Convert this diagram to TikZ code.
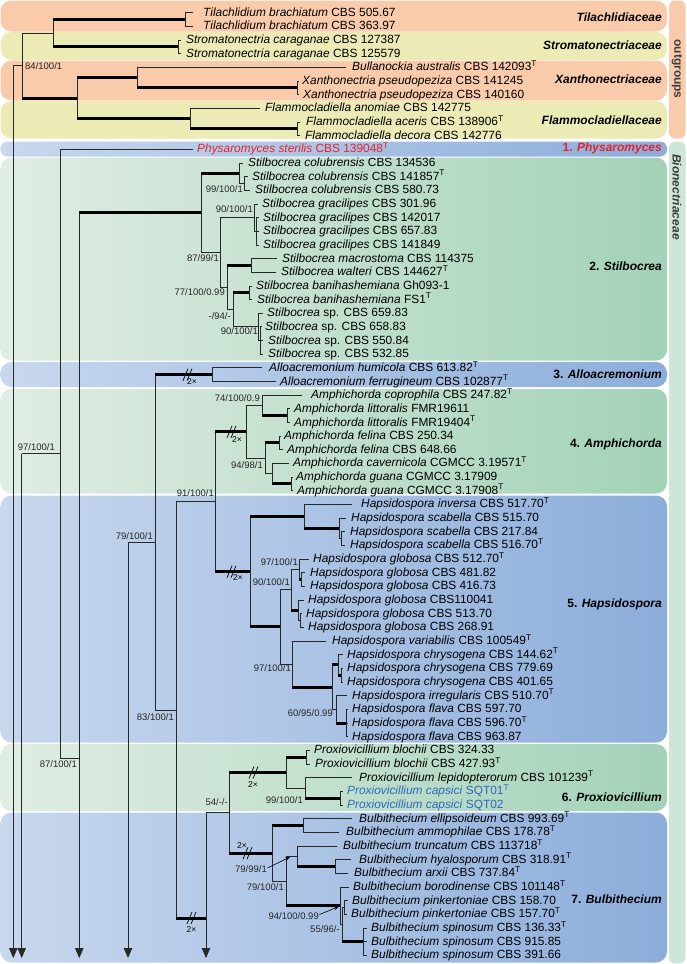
\documentclass[tikz,border=0pt]{standalone}
\usepackage{fontspec}
\setmainfont{Liberation Sans}
\usetikzlibrary{arrows.meta}
\definecolor{orng}{RGB}{250,203,170}
\definecolor{yllw}{RGB}{236,235,182}
\definecolor{blueL}{RGB}{200,216,238}
\definecolor{blueR}{RGB}{140,173,218}
\definecolor{grnL}{RGB}{224,237,227}
\definecolor{grnR}{RGB}{163,210,184}
\definecolor{bionbar}{RGB}{205,230,215}
\definecolor{redt}{RGB}{230,35,45}
\definecolor{bluet}{RGB}{45,105,190}
\definecolor{ln}{RGB}{40,40,40}
\definecolor{sidetxt}{RGB}{60,60,60}
\newcommand\Tsup{\textsuperscript{T}}
\newcommand\leaf[5]{\coordinate (#1) at (#3,#2); \node[lf] (#1x) at (#4,#2) {#5};}
\newcommand\br[3]{\draw[tn] (#2) -- (#2 |- #3); \draw[#1] (#2 |- #3) -- (#3);}
\newcommand\brk[2]{\draw[line width=0.7pt] (#1-5,#2+6) -- (#1,#2-6) (#1-1,#2+6) -- (#1+4,#2-6);}
\begin{document}
\begin{tikzpicture}[x=1pt,y=-1pt,
 lf/.style={anchor=west,inner sep=0pt,font=\fontsize{11.9}{12}\selectfont,text height=9pt,text depth=2pt},
 sl/.style={anchor=east,inner sep=0pt,font=\fontsize{9.5}{10}\selectfont,text height=6.9pt,text depth=0pt,text=black!85},
 cl/.style={anchor=east,inner sep=0pt,font=\fontsize{12}{13}\selectfont\bfseries,text height=8.6pt,text depth=0pt},
 tw/.style={inner sep=0pt,font=\fontsize{8.5}{9}\selectfont},
 tn/.style={line width=0.8pt,draw=ln},
 tk/.style={line width=3pt,draw=black},
 dn/.style={tn,-{Triangle[length=10pt,width=8.5pt]}},
 pt/.style={line width=0.6pt,draw=black,-{Stealth[length=5pt,width=3.5pt]}}]
\useasboundingbox (0,0) rectangle (686,964);
% ---------- bands ----------
\fill[orng,rounded corners=11pt] (0.5,0.5) rectangle (667,31.5);
\fill[yllw,rounded corners=11pt] (0.5,32) rectangle (667,60);
\fill[orng,rounded corners=11pt] (0.5,60.5) rectangle (667,100.5);
\fill[yllw,rounded corners=11pt] (0.5,101) rectangle (667,138.5);
\shade[left color=blueL,right color=blueR,rounded corners=7pt] (0.5,141.5) rectangle (667,156.5);
\shade[left color=grnL,right color=grnR,rounded corners=11pt] (0.5,157.5) rectangle (667,360.5);
\shade[left color=blueL,right color=blueR,rounded corners=11pt] (0.5,362) rectangle (667,387);
\shade[left color=grnL,right color=grnR,rounded corners=11pt] (0.5,389) rectangle (667,493.5);
\shade[left color=blueL,right color=blueR,rounded corners=11pt] (0.5,495.5) rectangle (667,742.5);
\shade[left color=grnL,right color=grnR,rounded corners=11pt] (0.5,744) rectangle (667,811);
\shade[left color=blueL,right color=blueR,rounded corners=11pt] (0.5,812.5) rectangle (667,962.5);
\fill[orng,rounded corners=6pt] (669,0.5) rectangle (685.5,138.5);
\fill[bionbar,rounded corners=6pt] (669,141.5) rectangle (685.5,963.5);
\node[rotate=-90,inner sep=0pt,font=\fontsize{12}{13}\selectfont\bfseries,text=sidetxt] (sOut) at (677,69) {outgroups};
\node[rotate=-90,inner sep=0pt,font=\fontsize{12}{13}\selectfont\bfseries\itshape,text=sidetxt] (sBio) at (677,197) {Bionectriaceae};
% ---------- leaves ----------
\leaf{t1}{12.7}{193}{203}{\textit{Tilachlidium brachiatum} CBS 505.67}
\leaf{t2}{26.36}{193}{203}{\textit{Tilachlidium brachiatum} CBS 363.97}
\leaf{t3}{40.02}{181}{186}{\textit{Stromatonectria caraganae} CBS 127387}
\leaf{t4}{53.68}{181}{186}{\textit{Stromatonectria caraganae} CBS 125579}
\leaf{t5}{67.34}{346}{352}{\textit{Bullanockia australis} CBS 142093\Tsup}
\leaf{t6}{81.0}{299}{302}{\textit{Xanthonectria pseudopeziza} CBS 141245}
\leaf{t7}{94.66}{299}{303}{\textit{Xanthonectria pseudopeziza} CBS 140160}
\leaf{t8}{108.32}{260}{265}{\textit{Flammocladiella anomiae} CBS 142775}
\leaf{t9}{121.98}{300}{306}{\textit{Flammocladiella aceris} CBS 138906\Tsup}
\leaf{t10}{135.64}{300}{305}{\textit{Flammocladiella decora} CBS 142776}
\leaf{t11}{149.3}{193}{197}{\color{redt}\textit{Physaromyces sterilis} CBS 139048\Tsup}
\leaf{t12}{162.96}{243}{248}{\textit{Stilbocrea colubrensis} CBS 134536}
\leaf{t13}{176.62}{248}{252}{\textit{Stilbocrea colubrensis} CBS 141857\Tsup}
\leaf{t14}{190.28}{250}{255}{\textit{Stilbocrea colubrensis} CBS 580.73}
\leaf{t15}{203.94}{258}{262}{\textit{Stilbocrea gracilipes} CBS 301.96}
\leaf{t16}{217.6}{259}{263}{\textit{Stilbocrea gracilipes} CBS 142017}
\leaf{t17}{231.26}{259}{263}{\textit{Stilbocrea gracilipes} CBS 657.83}
\leaf{t18}{244.92}{259}{263}{\textit{Stilbocrea gracilipes} CBS 141849}
\leaf{t19}{258.58}{277}{282}{\textit{Stilbocrea macrostoma} CBS 114375}
\leaf{t20}{272.24}{276}{281}{\textit{Stilbocrea walteri} CBS 144627\Tsup}
\leaf{t21}{285.9}{252}{256}{\textit{Stilbocrea banihashemiana} Gh093-1}
\leaf{t22}{299.56}{252}{257}{\textit{Stilbocrea banihashemiana} FS1\Tsup}
\leaf{t23}{313.22}{263}{267}{\textit{Stilbocrea} sp. CBS 659.83}
\leaf{t24}{326.88}{262}{265}{\textit{Stilbocrea} sp. CBS 658.83}
\leaf{t25}{340.54}{263}{268}{\textit{Stilbocrea} sp. CBS 550.84}
\leaf{t26}{354.2}{263}{268}{\textit{Stilbocrea} sp. CBS 532.85}
\leaf{t27}{367.86}{262}{269}{\textit{Alloacremonium humicola} CBS 613.82\Tsup}
\leaf{t28}{381.52}{276}{280}{\textit{Alloacremonium ferrugineum} CBS 102877\Tsup}
\leaf{t29}{395.18}{302}{311}{\textit{Amphichorda coprophila} CBS 247.82\Tsup}
\leaf{t30}{408.84}{290}{294}{\textit{Amphichorda littoralis} FMR19611}
\leaf{t31}{422.5}{290}{294}{\textit{Amphichorda littoralis} FMR19404\Tsup}
\leaf{t32}{436.16}{281}{284}{\textit{Amphichorda felina} CBS 250.34}
\leaf{t33}{449.82}{283}{287}{\textit{Amphichorda felina} CBS 648.66}
\leaf{t34}{463.48}{289}{293}{\textit{Amphichorda cavernicola} CGMCC 3.19571\Tsup}
\leaf{t35}{477.14}{293}{296}{\textit{Amphichorda guana} CGMCC 3.17909}
\leaf{t36}{490.8}{293}{297}{\textit{Amphichorda guana} CGMCC 3.17908\Tsup}
\leaf{t37}{504.46}{352}{361}{\textit{Hapsidospora inversa} CBS 517.70\Tsup}
\leaf{t38}{518.12}{346}{351}{\textit{Hapsidospora scabella} CBS 515.70}
\leaf{t39}{531.78}{345}{350}{\textit{Hapsidospora scabella} CBS 217.84}
\leaf{t40}{545.44}{345}{350}{\textit{Hapsidospora scabella} CBS 516.70\Tsup}
\leaf{t41}{559.1}{309}{313}{\textit{Hapsidospora globosa} CBS 512.70\Tsup}
\leaf{t42}{572.76}{305}{310}{\textit{Hapsidospora globosa} CBS 481.82}
\leaf{t43}{586.42}{305}{310}{\textit{Hapsidospora globosa} CBS 416.73}
\leaf{t44}{600.08}{304}{308}{\textit{Hapsidospora globosa} CBS110041}
\leaf{t45}{613.74}{302}{306}{\textit{Hapsidospora globosa} CBS 513.70}
\leaf{t46}{627.4}{304}{308}{\textit{Hapsidospora globosa} CBS 268.91}
\leaf{t47}{641.06}{326}{332}{\textit{Hapsidospora variabilis} CBS 100549\Tsup}
\leaf{t48}{654.72}{343}{347}{\textit{Hapsidospora chrysogena} CBS 144.62\Tsup}
\leaf{t49}{668.38}{343}{347}{\textit{Hapsidospora chrysogena} CBS 779.69}
\leaf{t50}{682.04}{343}{347}{\textit{Hapsidospora chrysogena} CBS 401.65}
\leaf{t51}{695.7}{347}{352}{\textit{Hapsidospora irregularis} CBS 510.70\Tsup}
\leaf{t52}{709.36}{348}{352}{\textit{Hapsidospora flava} CBS 597.70}
\leaf{t53}{723.02}{348}{352}{\textit{Hapsidospora flava} CBS 596.70\Tsup}
\leaf{t54}{736.68}{348}{352}{\textit{Hapsidospora flava} CBS 963.87}
\leaf{t55}{750.34}{310}{314}{\textit{Proxiovicillium blochii} CBS 324.33}
\leaf{t56}{764.0}{310}{315}{\textit{Proxiovicillium blochii} CBS 427.93\Tsup}
\leaf{t57}{777.66}{352}{359}{\textit{Proxiovicillium lepidopterorum} CBS 101239\Tsup}
\leaf{t58}{791.32}{343}{347}{\color{bluet}\textit{Proxiovicillium capsici} SQT01\Tsup}
\leaf{t59}{804.98}{343}{347}{\color{bluet}\textit{Proxiovicillium capsici} SQT02}
\leaf{t60}{818.64}{352}{359}{\textit{Bulbithecium ellipsoideum} CBS 993.69\Tsup}
\leaf{t61}{832.3}{339}{346}{\textit{Bulbithecium ammophilae} CBS 178.78\Tsup}
\leaf{t62}{845.96}{337}{343}{\textit{Bulbithecium truncatum} CBS 113718\Tsup}
\leaf{t63}{859.62}{351}{359}{\textit{Bulbithecium hyalosporum} CBS 318.91\Tsup}
\leaf{t64}{873.28}{348}{354}{\textit{Bulbithecium arxii} CBS 737.84\Tsup}
\leaf{t65}{886.94}{349}{353}{\textit{Bulbithecium borodinense} CBS 101148\Tsup}
\leaf{t66}{900.6}{348}{352}{\textit{Bulbithecium pinkertoniae} CBS 158.70}
\leaf{t67}{914.26}{347}{351}{\textit{Bulbithecium pinkertoniae} CBS 157.70\Tsup}
\leaf{t68}{927.92}{367}{371}{\textit{Bulbithecium spinosum} CBS 136.33\Tsup}
\leaf{t69}{941.58}{367}{371}{\textit{Bulbithecium spinosum} CBS 915.85}
\leaf{t70}{955.24}{367}{371}{\textit{Bulbithecium spinosum} CBS 391.66}
% ---------- internal nodes ----------
\coordinate (nTil) at (185,19.53);
\coordinate (nStr) at (178,46.85);
\coordinate (nTS) at (53,33.19);
\coordinate (nXan) at (297,87.83);
\coordinate (nXB) at (137,77.59);
\coordinate (nFla) at (297,128.81);
\coordinate (nFl) at (190,118.57);
\coordinate (nXF) at (77,98.08);
\coordinate (nOut) at (22,65.63);
\coordinate (s13) at (13.3,65.63);
\coordinate (e13) at (13.3,958);
\coordinate (nPh) at (60,453.65);
\coordinate (s22) at (21.7,453.65);
\coordinate (e22) at (21.7,958);
\coordinate (j79) at (79.3,758);
\coordinate (s79) at (79.3,212.9);
\coordinate (e79) at (79.3,958);
\coordinate (nSt) at (201,212.9);
\coordinate (nCo) at (239,173.2);
\coordinate (nCo2) at (244,183.45);
\coordinate (nGM) at (220,252.6);
\coordinate (nGr) at (254,217.6);
\coordinate (nGr2) at (256,231.26);
\coordinate (nMB) at (227,287.6);
\coordinate (nMW) at (251,265.41);
\coordinate (nBS) at (233,309.8);
\coordinate (nBa) at (249,292.73);
\coordinate (nSp) at (258,326.88);
\coordinate (nSp2) at (260,340.54);
\coordinate (nAll) at (155,542.3);
\coordinate (s128) at (128,542.3);
\coordinate (e128) at (128,958);
\coordinate (nAl) at (212,374.69);
\coordinate (nBig) at (176,709.9);
\coordinate (j206) at (206,918);
\coordinate (s206) at (206,812.85);
\coordinate (e206) at (206,958);
\coordinate (nAH) at (215,501.8);
\coordinate (nAm) at (246,431.85);
\coordinate (nCop) at (262,405.4);
\coordinate (nLit) at (287,415.67);
\coordinate (nFC) at (265,458.3);
\coordinate (nFel) at (279,442.99);
\coordinate (nCG) at (272,473.7);
\coordinate (nGua) at (291,483.97);
\coordinate (nHa) at (250,571.7);
\coordinate (nIS) at (304,516.4);
\coordinate (nSc) at (339,528.4);
\coordinate (nSc2) at (341,538.61);
\coordinate (nGA) at (280,626.95);
\coordinate (nGl) at (291,589.8);
\coordinate (nGl1) at (299,569.3);
\coordinate (nGl2) at (301,579.59);
\coordinate (nGl3) at (298,610.3);
\coordinate (nGl4) at (300,620.57);
\coordinate (nA) at (292,664.1);
\coordinate (nB) at (332,687.2);
\coordinate (nCh) at (338,664.97);
\coordinate (nCh2) at (341,675.21);
\coordinate (nIF) at (336,709.36);
\coordinate (nFl2) at (346,723.02);
\coordinate (nPB) at (229,812.85);
\coordinate (nPr) at (286,772.5);
\coordinate (nBl) at (306,757.17);
\coordinate (nLC) at (305,787.9);
\coordinate (nCa) at (340,798.15);
\coordinate (nBu) at (272,853.2);
\coordinate (nEA) at (303,825.47);
\coordinate (nTE) at (286,880.95);
\coordinate (nTr) at (297,856.2);
\coordinate (nHA) at (335,866.45);
\coordinate (nE) at (340,905.7);
\coordinate (nF) at (342,924.5);
\coordinate (nPk) at (344,907.43);
\coordinate (nSpn) at (363,941.58);
% ---------- branches: outgroups ----------
\br{tn}{nTil}{t1} \br{tn}{nTil}{t2}
\br{tn}{nStr}{t3} \br{tn}{nStr}{t4}
\br{tk}{nTS}{nTil} \br{tk}{nTS}{nStr}
\br{tn}{nXan}{t6} \br{tn}{nXan}{t7}
\br{tn}{nXB}{t5} \br{tk}{nXB}{nXan}
\br{tn}{nFla}{t9} \br{tn}{nFla}{t10}
\br{tn}{nFl}{t8} \br{tk}{nFl}{nFla}
\br{tk}{nXF}{nXB} \br{tk}{nXF}{nFl}
\br{tn}{nOut}{nTS} \br{tk}{nOut}{nXF}
\draw[tn] (s13) -- (nOut);
\draw[dn] (s13) -- (e13);
% ---------- backbone ----------
\br{tn}{nPh}{t11} \br{tn}{nPh}{j79}
\draw[tn] (s22) -- (nPh);
\draw[dn] (s22) -- (e22);
\draw[dn] (s79) -- (e79);
\draw[tk] (s79) -- (nSt);
% Stilbocrea
\br{tk}{nSt}{nCo} \br{tn}{nSt}{nGM}
\br{tn}{nCo}{t12} \br{tn}{nCo}{nCo2}
\br{tn}{nCo2}{t13} \br{tn}{nCo2}{t14}
\br{tn}{nGM}{nGr} \br{tn}{nGM}{nMB}
\br{tn}{nGr}{t15} \br{tn}{nGr}{nGr2}
\br{tn}{nGr2}{t16} \br{tn}{nGr2}{t17} \br{tn}{nGr2}{t18}
\br{tk}{nMB}{nMW} \br{tn}{nMB}{nBS}
\br{tn}{nMW}{t19} \br{tn}{nMW}{t20}
\br{tk}{nBS}{nBa} \br{tn}{nBS}{nSp}
\br{tn}{nBa}{t21} \br{tn}{nBa}{t22}
\br{tn}{nSp}{t23} \br{tn}{nSp}{nSp2}
\br{tn}{nSp2}{t24} \br{tn}{nSp2}{t25} \br{tn}{nSp2}{t26}
% Alloacremonium etc.
\br{tk}{nAll}{nAl} \br{tn}{nAll}{nBig}
\draw[tn] (s128) -- (nAll);
\draw[dn] (s128) -- (e128);
\br{tn}{nAl}{t27} \br{tn}{nAl}{t28}
\br{tn}{nBig}{nAH} \br{tk}{nBig}{j206}
\draw[dn] (s206) -- (e206);
\draw[tn] (s206) -- (nPB);
% Amphichorda
\br{tk}{nAH}{nAm} \br{tk}{nAH}{nHa}
\br{tn}{nAm}{nCop} \br{tn}{nAm}{nFC}
\br{tn}{nCop}{t29} \br{tk}{nCop}{nLit}
\br{tn}{nLit}{t30} \br{tn}{nLit}{t31}
\br{tk}{nFC}{nFel} \br{tn}{nFC}{nCG}
\br{tn}{nFel}{t32} \br{tn}{nFel}{t33}
\br{tn}{nCG}{t34} \br{tk}{nCG}{nGua}
\br{tn}{nGua}{t35} \br{tn}{nGua}{t36}
% Hapsidospora
\br{tk}{nHa}{nIS} \br{tk}{nHa}{nGA}
\br{tn}{nIS}{t37} \br{tk}{nIS}{nSc}
\br{tn}{nSc}{t38} \br{tn}{nSc}{nSc2}
\br{tn}{nSc2}{t39} \br{tn}{nSc2}{t40}
\br{tn}{nGA}{nGl} \br{tn}{nGA}{nA}
\br{tn}{nGl}{nGl1} \br{tk}{nGl}{nGl3}
\br{tn}{nGl1}{t41} \br{tk}{nGl1}{nGl2}
\br{tn}{nGl2}{t42} \br{tn}{nGl2}{t43}
\br{tn}{nGl3}{t44} \br{tn}{nGl3}{nGl4}
\br{tn}{nGl4}{t45} \br{tn}{nGl4}{t46}
\br{tn}{nA}{t47} \br{tk}{nA}{nB}
\br{tk}{nB}{nCh} \br{tn}{nB}{nIF}
\br{tn}{nCh}{t48} \br{tk}{nCh}{nCh2}
\br{tn}{nCh2}{t49} \br{tn}{nCh2}{t50}
\br{tn}{nIF}{t51} \br{tk}{nIF}{nFl2}
\br{tn}{nFl2}{t52} \br{tn}{nFl2}{t53} \br{tn}{nFl2}{t54}
% Proxiovicillium
\br{tk}{nPB}{nPr} \br{tk}{nPB}{nBu}
\br{tk}{nPr}{nBl} \br{tn}{nPr}{nLC}
\br{tn}{nBl}{t55} \br{tn}{nBl}{t56}
\br{tn}{nLC}{t57} \br{tk}{nLC}{nCa}
\br{tn}{nCa}{t58} \br{tn}{nCa}{t59}
% Bulbithecium
\br{tk}{nBu}{nEA} \br{tn}{nBu}{nTE}
\br{tn}{nEA}{t60} \br{tn}{nEA}{t61}
\br{tn}{nTE}{nTr} \br{tk}{nTE}{nE}
\br{tn}{nTr}{t62} \br{tk}{nTr}{nHA}
\br{tn}{nHA}{t63} \br{tn}{nHA}{t64}
\br{tn}{nE}{t65} \br{tn}{nE}{nF}
\br{tn}{nF}{nPk} \br{tk}{nF}{nSpn}
\br{tn}{nPk}{t66} \br{tn}{nPk}{t67}
\br{tn}{nSpn}{t68} \br{tn}{nSpn}{t69} \br{tn}{nSpn}{t70}
% ---------- breaks ----------
\brk{188}{374.69} \node[tw] (b1) at (192,382) {2×};
\brk{232}{431.85} \node[tw] (b2) at (237,439.5) {2×};
\brk{232}{571.7} \node[tw] (b3) at (238,578) {2×};
\brk{254}{772.5} \node[tw] (b4) at (253,785) {2×};
\brk{192}{918} \node[tw] (b5) at (191.5,930) {2×};
\brk{248}{853.2} \node[tw] (b6) at (242,845.5) {2×};
% ---------- support values ----------
\node[sl,anchor=west] (v1) at (25,65.6) {84/100/1};
\node[sl] (v2) at (55,447) {97/100/1};
\node[sl] (v3) at (77,764) {87/100/1};
\node[sl] (v4) at (243,189) {99/100/1};
\node[sl] (v5) at (253,209) {90/100/1};
\node[sl] (v6) at (219,258) {87/99/1};
\node[sl] (v7) at (225,292) {77/100/0.99};
\node[sl] (v8) at (231,316) {-/94/-};
\node[sl] (v9) at (258,331) {90/100/1};
\node[sl] (v10) at (260,398) {74/100/0.9};
\node[sl] (v11) at (263,465) {94/98/1};
\node[sl] (v12) at (214,493) {91/100/1};
\node[sl] (v13) at (153,536) {79/100/1};
\node[sl] (v14) at (174,717) {83/100/1};
\node[sl] (v15) at (298,562) {97/100/1};
\node[sl] (v16) at (290,582) {90/100/1};
\node[sl] (v17) at (291,668) {97/100/1};
\node[sl] (v18) at (333,713) {60/95/0.99};
\node[sl] (v19) at (303,800) {99/100/1};
\node[sl] (v20) at (228,802) {54/-/-};
\node[sl] (v21) at (267,869) {79/99/1};
\node[sl] (v22) at (284,887) {79/100/1};
\node[sl] (v23) at (319,916) {94/100/0.99};
\node[sl] (v24) at (340,929) {55/96/-};
\coordinate (p21) at (290,857);
\coordinate (p23) at (339,906.5);
\draw[pt] (v21.east) ++(0.5,-1) -- (p21);
\draw[pt] (v23.east) ++(0.5,-1.5) -- (p23);
% ---------- clade labels ----------
\node[cl] (cTil) at (662,17) {\textit{Tilachlidiaceae}};
\node[cl] (cStr) at (662,45.5) {\textit{Stromatonectriaceae}};
\node[cl] (cXan) at (662,79) {\textit{Xanthonectriaceae}};
\node[cl] (cFla) at (662,120) {\textit{Flammocladiellaceae}};
\node[cl,text=redt] (c1) at (662,147.5) {1. \textit{Physaromyces}};
\node[cl] (c2) at (662,266) {2. \textit{Stilbocrea}};
\node[cl] (c3) at (662,374.5) {3. \textit{Alloacremonium}};
\node[cl] (c4) at (662,443) {4. \textit{Amphichorda}};
\node[cl] (c5) at (662,603) {5. \textit{Hapsidospora}};
\node[cl] (c6) at (662,797) {6. \textit{Proxiovicillium}};
\node[cl] (c7) at (662,899) {7. \textit{Bulbithecium}};
\end{tikzpicture}
\end{document}
